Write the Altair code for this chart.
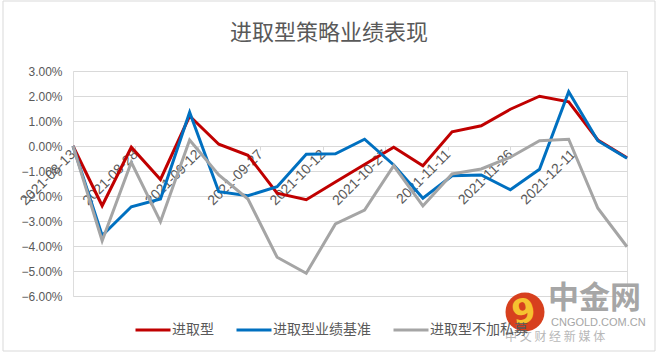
import altair as alt
import pandas as pd

# ---- data ----
dates = ["2021-08-13", "2021-08-20", "2021-08-27", "2021-09-03", "2021-09-10",
         "2021-09-17", "2021-09-24", "2021-10-01", "2021-10-08", "2021-10-15",
         "2021-10-22", "2021-10-29", "2021-11-05", "2021-11-12", "2021-11-19",
         "2021-11-26", "2021-12-03", "2021-12-10", "2021-12-17", "2021-12-24"]
aggressive = [0.00, -2.39, -0.05, -1.34, 1.20, 0.07, -0.37, -1.89, -2.15, -1.44,
              -0.74, -0.05, -0.79, 0.57, 0.81, 1.47, 1.99, 1.77, 0.24, -0.47]
benchmark = [0.00, -3.58, -2.43, -2.12, 1.35, -1.83, -1.99, -1.63, -0.33, -0.31,
             0.27, -0.76, -2.09, -1.19, -1.16, -1.75, -0.93, 2.17, 0.21, -0.49]
no_private = [0.00, -3.79, -0.65, -3.03, 0.24, -1.16, -2.12, -4.45, -5.09, -3.12,
              -2.56, -0.79, -2.40, -1.12, -0.92, -0.45, 0.21, 0.27, -2.49, -4.03]
series_names = ["进取型", "进取型业绩基准", "进取型不加私募"]
series_colors = ["#C00000", "#0070C0", "#A5A5A5"]
tick_dates = [(2021, 8, 13), (2021, 8, 28), (2021, 9, 12), (2021, 9, 27), (2021, 10, 12),
              (2021, 10, 27), (2021, 11, 11), (2021, 11, 26), (2021, 12, 11)]
y_ticks = [-0.06, -0.05, -0.04, -0.03, -0.02, -0.01, 0.0, 0.01, 0.02, 0.03]
title_text = ["进取型策略业绩表现"]

rows = []
for name, vals in zip(series_names, [aggressive, benchmark, no_private]):
    for d, v in zip(dates, vals):
        rows.append({"date": d, "value": v / 100.0, "series": name})
df = pd.DataFrame(rows)
df["date"] = pd.to_datetime(df["date"])

# ---- layout (pixels) ----
L, T, W, H = 73, 71, 554, 225
CW, CH = 658, 354

def dt(t):
    return alt.DateTime(year=t[0], month=t[1], date=t[2])

lines = alt.Chart(df).mark_line(strokeWidth=3).encode(
    x=alt.X("date:T",
            scale=alt.Scale(domain=[dt((2021, 8, 13)), dt((2021, 12, 24))], nice=False),
            axis=alt.Axis(values=[dt(t) for t in tick_dates], format="%Y-%m-%d",
                          labelAngle=-45, labelAlign="right", labelBaseline="middle",
                          offset=-150, grid=False, domainColor="#d9d9d9",
                          tickColor="#d9d9d9", tickSize=4, labelPadding=2,
                          labelFont="Liberation Sans", labelFontSize=14,
                          labelColor="#595959", labelOverlap=False, title=None)),
    y=alt.Y("value:Q",
            scale=alt.Scale(domain=[-0.06, 0.03], nice=False),
            axis=alt.Axis(values=y_ticks, format=".2%", domain=False, ticks=False,
                          gridColor="#d9d9d9", labelPadding=11,
                          labelFont="Liberation Sans", labelFontSize=12,
                          labelColor="#595959", title=None)),
    color=alt.Color("series:N",
                    scale=alt.Scale(domain=series_names, range=series_colors),
                    legend=alt.Legend(orient="none", legendX=61, legendY=240,
                                      direction="horizontal", title=None,
                                      symbolType="stroke", symbolStrokeWidth=3,
                                      symbolSize=1225, labelFont="Noto Sans CJK SC",
                                      labelFontSize=14, labelColor="#595959",
                                      columnPadding=16, labelOffset=0)),
)

one = pd.DataFrame({"t": ["中金网"]})
frame = alt.Chart(one).mark_rect(fillOpacity=0, stroke="#d9d9d9", strokeWidth=1).encode(
    x=alt.value(3 - L), x2=alt.value(655 - L), y=alt.value(1 - T), y2=alt.value(351 - T))

title = alt.Chart(pd.DataFrame({"t": title_text})).mark_text(
    font="Noto Sans CJK SC", fontSize=22, color="#595959", align="center", baseline="middle"
).encode(x=alt.value(329 - L), y=alt.value(33 - T), text="t:N")

logo_circle = alt.Chart(one).mark_point(filled=True, shape="circle", size=1520,
                                        color="#D7401E", opacity=1).encode(
    x=alt.value(525 - L), y=alt.value(312 - T))
logo_swirl = alt.Chart(pd.DataFrame({"t": ["9"]})).mark_text(
    font="DejaVu Sans", fontWeight="bold", fontSize=34, color="#F6C230", angle=350
).encode(x=alt.value(524 - L), y=alt.value(313 - T), text="t:N")
logo_big = alt.Chart(one).mark_text(
    font="Noto Sans CJK SC", fontWeight="bold", fontSize=31, color="#A6A6A6", align="left",
    baseline="middle"
).encode(x=alt.value(548 - L), y=alt.value(299 - T), text="t:N")
logo_small = alt.Chart(pd.DataFrame({"t": ["CNGOLD.COM.CN"]})).mark_text(
    font="Liberation Sans", fontSize=11, color="#A6A6A6", align="left", baseline="middle"
).encode(x=alt.value(551 - L), y=alt.value(323 - T), text="t:N")
logo_sub = alt.Chart(pd.DataFrame({"t": ["中 文 财 经 新 媒 体"]})).mark_text(
    font="Noto Sans CJK SC", fontSize=12, color="#B8B8B8", align="left", baseline="middle"
).encode(x=alt.value(505 - L), y=alt.value(337 - T), text="t:N")

chart = alt.layer(frame, title, lines, logo_circle, logo_swirl, logo_big, logo_small, logo_sub).properties(
    width=W, height=H,
    autosize=alt.AutoSizeParams(type="none"),
    padding={"left": L, "top": T, "right": CW - L - W, "bottom": CH - T - H},
).configure_view(stroke=None).configure(background="white")

chart.save("out.html", embed_options={"renderer": "svg", "actions": False})
